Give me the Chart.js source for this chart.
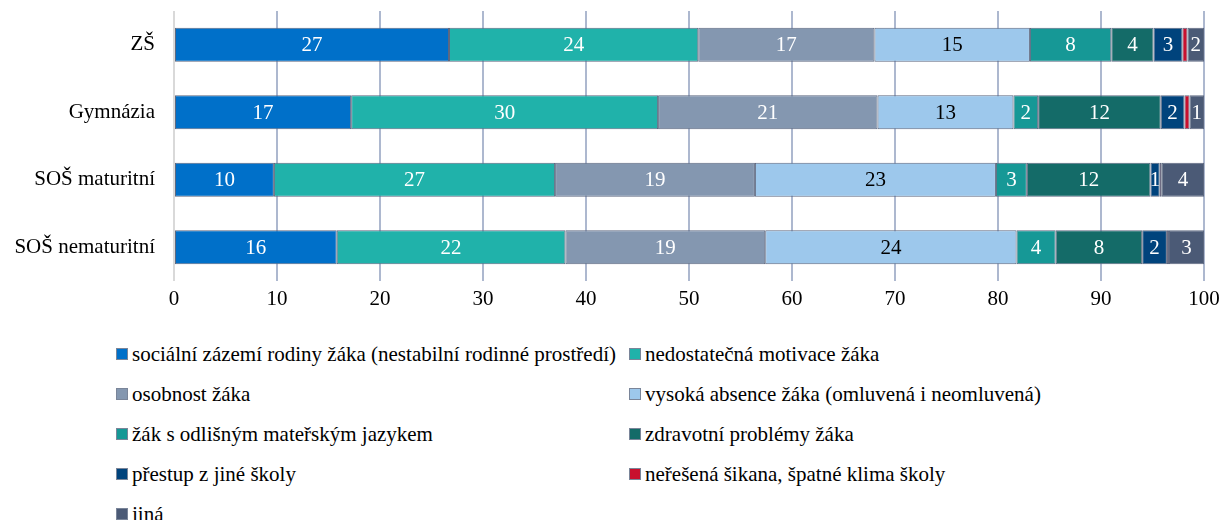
<!DOCTYPE html>
<html>
<head>
<meta charset="utf-8">
<script src="https://cdn.jsdelivr.net/npm/chart.js@4"></script>
<style>
  body { margin: 0; background: #fff; font-family: "Liberation Serif", "Times New Roman", serif; }
  #wrap { position: relative; width: 1220px; height: 520px; }
  #chartBox { position: absolute; left: 0; top: 0; width: 1220px; height: 320px; }
  #legend { position: absolute; left: 116px; top: 334px; font-size: 21px; color: #000; }
  .row { height: 40px; white-space: nowrap; display: flex; align-items: center; }
  .item { display: inline-flex; align-items: center; }
  .item.col1 { min-width: 513px; }
  .box { width: 10px; height: 10px; border: 1px solid #7a8599; margin-right: 4px; }
</style>
</head>
<body>
<div id="wrap">
  <div id="chartBox"><canvas id="chart"></canvas></div>
  <div id="legend"></div>
</div>
<script>
// === DATA ===
const kategorie = ['ZŠ', 'Gymnázia', 'SOŠ maturitní', 'SOŠ nematuritní'];
const xTicks = [0, 10, 20, 30, 40, 50, 60, 70, 80, 90, 100];

const socialniZazemi = [26.7, 17.2, 9.7, 15.8];
const nizkaMotivace = [24.2, 29.8, 27.3, 22.2];
const osobnost = [17.1, 21.3, 19.4, 19.4];
const absence = [15.1, 13.2, 23.4, 24.4];
const jinyJazyk = [7.9, 2.4, 3.0, 3.8];
const zdravotni = [4.1, 11.9, 12.0, 8.4];
const prestup = [2.8, 2.3, 0.9, 2.4];
const sikana = [0.5, 0.5, 0.2, 0.2];
const jina = [1.6, 1.4, 4.1, 3.4];

const serie = [
    { label: 'sociální zázemí rodiny žáka (nestabilní rodinné prostředí)', data: socialniZazemi, color: '#0070C9', text: '#fff' },
    { label: 'nedostatečná motivace žáka', data: nizkaMotivace, color: '#20B2AA', text: '#fff' },
    { label: 'osobnost žáka', data: osobnost, color: '#8497B0', text: '#fff' },
    { label: 'vysoká absence žáka (omluvená i neomluvená)', data: absence, color: '#9DC8EC', text: '#000' },
    { label: 'žák s odlišným mateřským jazykem', data: jinyJazyk, color: '#169896', text: '#fff' },
    { label: 'zdravotní problémy žáka', data: zdravotni, color: '#146B68', text: '#fff' },
    { label: 'přestup z jiné školy', data: prestup, color: '#00437C', text: '#fff' },
    { label: 'neřešená šikana, špatné klima školy', data: sikana, color: '#C8102E', text: '#fff' },
    { label: 'jiná', data: jina, color: '#4B5A76', text: '#fff' }
];

const FONT = '"Liberation Serif", "Times New Roman", serif';

// popisky hodnot uprostred segmentu (uzke segmenty bez popisku)
const popiskyPlugin = {
    id: 'popisky',
    afterDatasetsDraw(chart) {
        const ctx = chart.ctx;
        ctx.save();
        ctx.font = '21px ' + FONT;
        ctx.textAlign = 'center';
        ctx.textBaseline = 'middle';
        chart.data.datasets.forEach((ds, i) => {
            const meta = chart.getDatasetMeta(i);
            meta.data.forEach((bar, j) => {
                if (ds.data[j] < 0.75) return;
                ctx.fillStyle = serie[i].text;
                ctx.fillText(String(Math.round(ds.data[j])), (bar.x + bar.base) / 2, bar.y + 1);
            });
        });
        ctx.restore();
    }
};

const chart = new Chart(document.getElementById('chart'), {
    type: 'bar',
    data: {
        labels: kategorie,
        datasets: serie.map(s => ({
            label: s.label,
            data: s.data,
            backgroundColor: s.color,
            borderColor: '#5d6880',
            borderWidth: 1,
            borderSkipped: false,
            categoryPercentage: 1,
            barPercentage: 0.505
        }))
    },
    options: {
        indexAxis: 'y',
        responsive: true,
        maintainAspectRatio: false,
        animation: false,
        layout: { padding: { top: 11, right: 16, left: 0, bottom: 0 } },
        plugins: { legend: { display: false }, tooltip: { enabled: false } },
        scales: {
            x: {
                stacked: true,
                min: 0,
                max: 100,
                afterBuildTicks: axis => { axis.ticks = xTicks.map(v => ({ value: v })); },
                ticks: { color: '#000', font: { family: FONT, size: 21 }, padding: 6, maxRotation: 0 },
                grid: {
                    color: c => c.index === 0 ? '#d9d9d9' : '#adb8cf',
                    lineWidth: 2,
                    drawTicks: false
                },
                border: { display: false },
                afterFit: axis => { axis.height = 39; axis.paddingLeft = 0; axis.paddingRight = 0; }
            },
            y: {
                stacked: true,
                ticks: { color: '#000', font: { family: FONT, size: 21 }, padding: 19 },
                grid: { display: false, drawTicks: false },
                border: { display: false },
                afterFit: axis => { axis.width = 174; axis.paddingTop = 0; axis.paddingBottom = 0; }
            }
        }
    },
    plugins: [popiskyPlugin]
});

// === LEGENDA ===
const legendEl = document.getElementById('legend');
for (let r = 0; r < serie.length; r += 2) {
    const row = document.createElement('div');
    row.className = 'row';
    [serie[r], serie[r + 1]].forEach((s, k) => {
        if (!s) return;
        const item = document.createElement('span');
        item.className = 'item' + (k === 0 ? ' col1' : '');
        const box = document.createElement('span');
        box.className = 'box';
        box.style.background = s.color;
        item.appendChild(box);
        item.appendChild(document.createTextNode(s.label));
        row.appendChild(item);
    });
    legendEl.appendChild(row);
}
</script>
</body>
</html>
